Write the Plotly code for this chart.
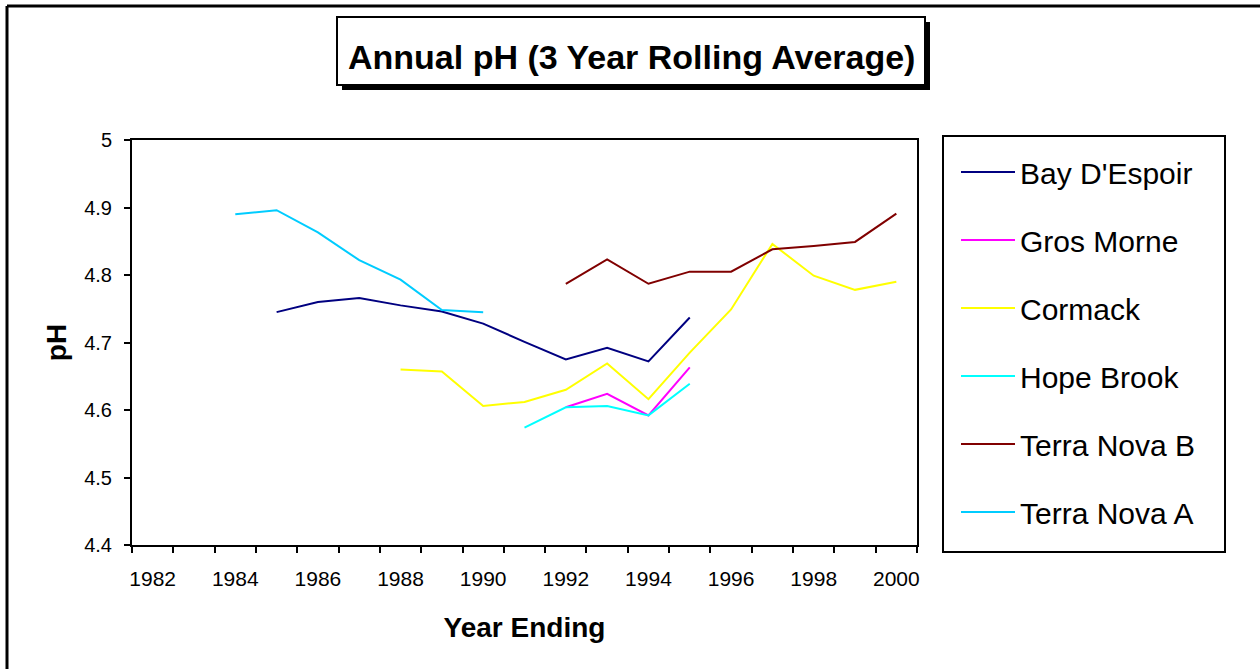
import plotly.graph_objects as go

# Years on the category axis (Excel style)
years_all = list(range(1982, 2001))
label_years = list(range(1982, 2001, 2))

# 3 year rolling averages of pH
bay_years = [1985, 1986, 1987, 1988, 1989, 1990, 1991, 1992, 1993, 1994, 1995]
bay_ph = [4.745, 4.760, 4.766, 4.755, 4.746, 4.728, 4.701, 4.675, 4.692, 4.672, 4.737]

gros_years = [1992, 1993, 1994, 1995]
gros_ph = [4.604, 4.624, 4.592, 4.663]

cormack_years = [1988, 1989, 1990, 1991, 1992, 1993, 1994, 1995, 1996, 1997, 1998, 1999, 2000]
cormack_ph = [4.660, 4.657, 4.606, 4.612, 4.630, 4.669, 4.616, 4.685, 4.749, 4.846, 4.799, 4.778, 4.790]

hope_years = [1991, 1992, 1993, 1994, 1995]
hope_ph = [4.574, 4.604, 4.606, 4.592, 4.639]

tnb_years = [1992, 1993, 1994, 1995, 1996, 1997, 1998, 1999, 2000]
tnb_ph = [4.787, 4.823, 4.787, 4.805, 4.805, 4.838, 4.843, 4.849, 4.891]

tna_years = [1984, 1985, 1986, 1987, 1988, 1989, 1990]
tna_ph = [4.890, 4.896, 4.863, 4.822, 4.793, 4.748, 4.745]

series = [
    ("Bay D'Espoir", bay_years, bay_ph, "#000080"),
    ("Gros Morne", gros_years, gros_ph, "#FF00FF"),
    ("Cormack", cormack_years, cormack_ph, "#FFFF00"),
    ("Hope Brook", hope_years, hope_ph, "#00FFFF"),
    ("Terra Nova B", tnb_years, tnb_ph, "#800000"),
    ("Terra Nova A", tna_years, tna_ph, "#00CCFF"),
]

y_ticks = [4.4, 4.5, 4.6, 4.7, 4.8, 4.9, 5.0]
y_labels = ["4.4", "4.5", "4.6", "4.7", "4.8", "4.9", "5"]

FONT = "Arial, Liberation Sans, sans-serif"

# plot area in pixels
W, H = 1260, 669
L, R, T, B = 132, 917, 140, 545


def px_x(x):
    return (x - L) / (R - L)


def px_y(y):
    return (B - y) / (B - T)


fig = go.Figure()

for name, xs, ys, color in series:
    fig.add_trace(go.Scatter(
        x=xs, y=ys, name=name, mode="lines",
        line=dict(color=color, width=2),
        legendgroup=name,
    ))

fig.update_layout(
    width=W, height=H,
    margin=dict(l=L, r=W - R, t=T, b=H - B, autoexpand=False),
    paper_bgcolor="white",
    plot_bgcolor="white",
    font=dict(family=FONT, color="black"),
    showlegend=True,
    legend=dict(
        x=px_x(956), y=px_y(146), xanchor="left", yanchor="top",
        borderwidth=0, bgcolor="rgba(0,0,0,0)",
        font=dict(size=30, family=FONT),
        tracegroupgap=26,
        itemwidth=54,
        maxheight=1,
    ),
)

fig.update_xaxes(
    range=[1981.5, 2000.5],
    tickmode="array",
    tickvals=label_years,
    ticktext=[str(y) for y in label_years],
    ticks="",
    ticklabelstandoff=14,
    tickfont=dict(size=21),
    showgrid=False, zeroline=False,
    showline=True, linecolor="black", linewidth=2, mirror=True,
    minor=dict(
        tickmode="array",
        tickvals=[y - 0.5 for y in years_all] + [years_all[-1] + 0.5],
        ticks="outside", ticklen=6, tickwidth=2, tickcolor="black",
        showgrid=False,
    ),
    title=dict(text="<b>Year Ending</b>", font=dict(size=28), standoff=28),
)

fig.update_yaxes(
    range=[4.4, 5.0],
    tickmode="array",
    tickvals=y_ticks,
    ticktext=y_labels,
    ticks="outside", ticklen=6, tickwidth=2, tickcolor="black",
    ticklabelstandoff=8,
    tickfont=dict(size=20),
    showgrid=False, zeroline=False,
    showline=True, linecolor="black", linewidth=2, mirror=True,
    title=dict(text="<b>pH</b>", font=dict(size=28), standoff=9),
)

shapes = [
    # title box with drop shadow
    dict(type="rect", xref="paper", yref="paper",
         x0=px_x(342), x1=px_x(930), y0=px_y(90), y1=px_y(22),
         fillcolor="black", line=dict(width=0)),
    dict(type="rect", xref="paper", yref="paper",
         x0=px_x(337), x1=px_x(925), y0=px_y(85), y1=px_y(17),
         fillcolor="white", line=dict(color="black", width=2)),
    # legend box
    dict(type="rect", xref="paper", yref="paper",
         x0=px_x(943), x1=px_x(1225), y0=px_y(552), y1=px_y(136),
         line=dict(color="black", width=2), layer="below"),
    # chart area border (top and left edges visible)
    dict(type="line", xref="paper", yref="paper",
         x0=px_x(7), x1=px_x(1262), y0=px_y(6), y1=px_y(6),
         line=dict(color="black", width=3)),
    dict(type="line", xref="paper", yref="paper",
         x0=px_x(7), x1=px_x(7), y0=px_y(6), y1=px_y(672),
         line=dict(color="black", width=3)),
]
fig.update_layout(shapes=shapes)

fig.add_annotation(
    x=px_x(631), y=px_y(57), xref="paper", yref="paper",
    text="<b>Annual pH (3 Year Rolling Average)</b>",
    showarrow=False, font=dict(size=34, family=FONT),
    xanchor="center", yanchor="middle",
)

fig.write_html(
    "out.html",
    config={"displayModeBar": False},
    post_script="document.body.style.margin='0';",
)
